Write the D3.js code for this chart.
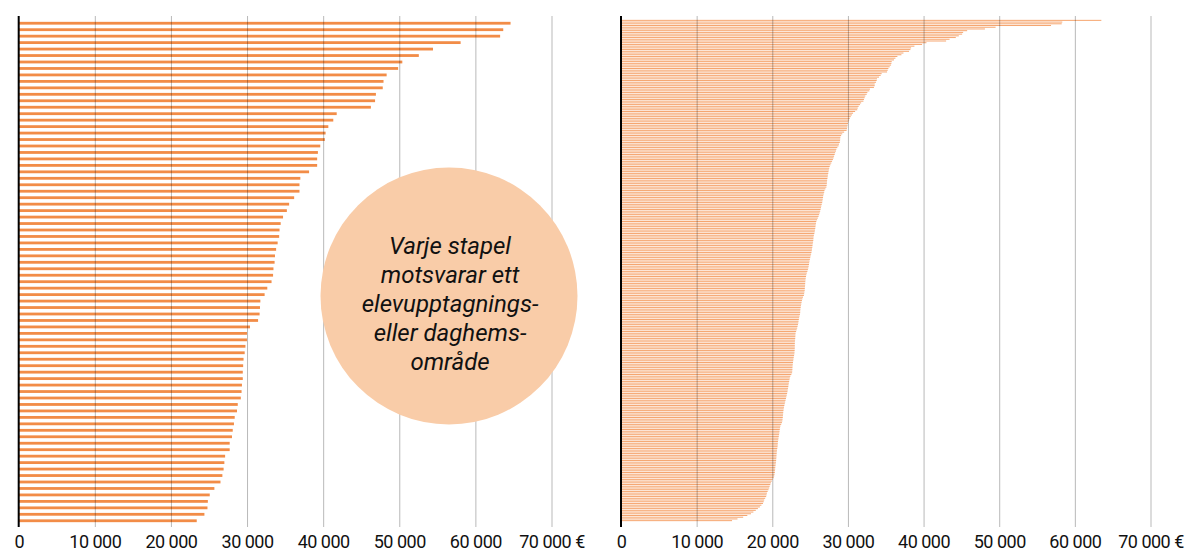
<!DOCTYPE html>
<html>
<head>
<meta charset="utf-8">
<script src="https://cdn.jsdelivr.net/npm/d3@7"></script>
<style>
  html, body { margin: 0; padding: 0; background: #fff; }
  svg { display: block; }
</style>
</head>
<body>
<svg id="chart" width="1199" height="553"></svg>
<script>
// Costs per area (€), sorted from highest to lowest.
const schoolAreaCosts = [
  64620, 63660, 63250, 58060, 54430, 52570, 50400, 49850, 48340, 47930,
  47830, 46930, 46820, 46270, 41780, 41330, 40680, 40320, 40220, 39620,
  39310, 39210, 39210, 38150, 37000, 36890, 36890, 36190, 35530, 35230,
  34730, 34420, 34270, 34220, 34020, 33820, 33670, 33620, 33470, 33420,
  33220, 32660, 32310, 31750, 31700, 31650, 31450, 30390, 29990, 29990,
  29790, 29690, 29540, 29490, 29440, 29440, 29330, 29280, 29180, 28780,
  28680, 28380, 28280, 28120, 28020, 27720, 27720, 27120, 27020, 26920,
  26760, 26510, 25710, 25100, 24850, 24800, 24400, 23390
];

const daycareAreaCosts = [
  63500, 58340, 58260, 56850, 49520, 48110, 45760, 45230, 45100, 44660,
  44260, 43430, 42980, 40380, 39800, 38790, 38350, 38260, 38080, 37340,
  37070, 36540, 36280, 36090, 35790, 35750, 35700, 35520, 35350, 35260,
  35170, 34460, 34330, 34110, 33840, 33800, 33710, 33540, 33540, 33440,
  32910, 32830, 32570, 32480, 32300, 32210, 32120, 32050, 31750, 31600,
  31420, 31300, 31230, 30950, 30680, 30520, 30370, 30250, 30160, 30080,
  30010, 29950, 29910, 29880, 29820, 29500, 29250, 29100, 29000, 28980,
  28960, 28930, 28820, 28760, 28600, 28470, 28420, 28310, 28250, 28170,
  28100, 28020, 27900, 27800, 27690, 27590, 27530, 27480, 27430, 27400,
  27350, 27330, 27290, 27250, 27230, 27210, 27190, 27150, 27020, 26900,
  26860, 26800, 26740, 26710, 26670, 26630, 26600, 26540, 26480, 26440,
  26380, 26330, 26260, 26190, 26120, 26020, 25920, 25820, 25780, 25740,
  25710, 25680, 25640, 25610, 25560, 25500, 25460, 25440, 25420, 25390,
  25350, 25320, 25290, 25250, 25220, 25180, 25130, 25070, 25020, 24970,
  24920, 24880, 24850, 24810, 24760, 24710, 24640, 24560, 24500, 24460,
  24420, 24390, 24370, 24350, 24340, 24320, 24300, 24290, 24250, 24210,
  24180, 24060, 23980, 23920, 23870, 23830, 23790, 23750, 23720, 23700,
  23690, 23660, 23600, 23550, 23510, 23470, 23440, 23400, 23340, 23290,
  23220, 23150, 23080, 23060, 23050, 23030, 23010, 22990, 22980, 22980,
  22980, 22970, 22960, 22940, 22920, 22880, 22840, 22800, 22770, 22740,
  22710, 22690, 22670, 22660, 22640, 22620, 22520, 22390, 22320, 22270,
  22230, 22190, 22150, 22120, 22080, 22040, 22010, 21960, 21910, 21860,
  21810, 21750, 21700, 21650, 21600, 21550, 21510, 21480, 21450, 21430,
  21410, 21390, 21360, 21330, 21280, 21180, 21070, 21030, 20990, 20960,
  20930, 20900, 20860, 20820, 20790, 20750, 20730, 20720, 20700, 20660,
  20620, 20600, 20580, 20560, 20550, 20530, 20510, 20490, 20460, 20430,
  20400, 20380, 20360, 20340, 20300, 20260, 20180, 20040, 19930, 19820,
  19740, 19650, 19590, 19500, 19390, 19290, 19240, 19190, 19060, 18930,
  18860, 18770, 18560, 18360, 18100, 17820, 17500, 17180, 16700, 16150,
  15400, 14680
];

const tickValues = [0, 10000, 20000, 30000, 40000, 50000, 60000, 70000];
const tickLabels = ["0", "10 000", "20 000", "30 000", "40 000", "50 000", "60 000", "70 000 €"];

const noteLines = ["Varje stapel", "motsvarar ett", "elevupptagnings-", "eller daghems-", "område"];

const svg = d3.select("#chart");
const plotTop = 16, plotBottom = 527;
const barColor = "#f28c47";

function drawPanel(values, opts) {
  const g = svg.append("g");
  const x = d3.scaleLinear().domain([0, 70000]).range([opts.x0, opts.x1]);
  const y = d3.scaleBand()
    .domain(d3.range(values.length))
    .range([opts.y0, opts.y1]);

  // bars
  g.append("g").selectAll("rect")
    .data(values)
    .join("rect")
    .attr("x", x(0))
    .attr("y", (d, i) => y(i) + (y.step() - opts.barHeight) / 2)
    .attr("width", d => x(d) - x(0))
    .attr("height", opts.barHeight)
    .attr("fill", barColor)
    .attr("fill-opacity", opts.barOpacity);

  // grid lines and tick labels
  const axis = d3.axisBottom(x)
    .tickValues(tickValues)
    .tickSize(-(plotBottom - plotTop))
    .tickFormat((d, i) => tickLabels[i]);

  const ax = g.append("g")
    .attr("transform", `translate(0,${plotBottom})`)
    .call(axis);
  ax.select(".domain").remove();
  ax.selectAll(".tick line")
    .attr("stroke", "#000")
    .attr("stroke-opacity", d => d === 0 ? 0 : 0.28)
    .attr("stroke-width", 1);
  ax.selectAll(".tick text")
    .attr("y", 20.5)
    .attr("dy", 0)
    .attr("fill", "#111")
    .style("font-family", "Roboto, 'Noto Sans', sans-serif")
    .style("font-size", "18px")
    .style("letter-spacing", "-0.5px");

  // zero line
  g.append("line")
    .attr("x1", x(0)).attr("x2", x(0))
    .attr("y1", plotTop).attr("y2", plotBottom)
    .attr("stroke", "#000")
    .attr("stroke-width", 2);
  return x;
}

drawPanel(schoolAreaCosts, { x0: 18.7, x1: 551.5, y0: 20, y1: 524, barHeight: 2.8, barOpacity: 1 });
drawPanel(daycareAreaCosts, { x0: 621, x1: 1150.5, y0: 19.5, y1: 521.5, barHeight: 1.0, barOpacity: 0.78 });

// explanatory bubble
const note = svg.append("g");
note.append("circle")
  .attr("cx", 449).attr("cy", 296).attr("r", 128.5)
  .attr("fill", "#f9cca8");
note.append("text")
  .attr("text-anchor", "middle")
  .attr("fill", "#111")
  .style("font-family", "Roboto, 'Noto Sans', sans-serif")
  .style("font-style", "italic")
  .style("font-size", "24px")
  .selectAll("tspan")
  .data(noteLines)
  .join("tspan")
  .attr("x", 450)
  .attr("y", (d, i) => 254 + i * 29)
  .text(d => d);
</script>
</body>
</html>
